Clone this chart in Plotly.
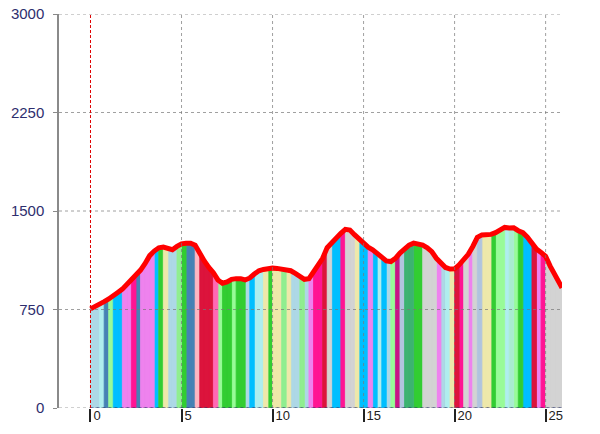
import plotly.graph_objects as go

# Distance along the route (km)
distance_km = [
    0, 0.25, 0.5, 0.75, 1.0, 1.25, 1.5, 1.75, 2.0, 2.25, 2.5, 2.75, 3.0, 3.25, 3.5, 3.75,
    4.0, 4.25, 4.5, 4.75, 5.0, 5.25, 5.5, 5.75, 6.0, 6.25, 6.5, 6.75, 7.0, 7.25, 7.5, 7.75,
    8.0, 8.25, 8.5, 8.75, 9.0, 9.25, 9.5, 9.75, 10.0, 10.25, 10.5, 10.75, 11.0, 11.25, 11.5, 11.75,
    12.0, 12.25, 12.5, 12.75, 13.0, 13.25, 13.5, 13.75, 14.0, 14.25, 14.5, 14.75, 15.0, 15.25, 15.5, 15.75,
    16.0, 16.25, 16.5, 16.75, 17.0, 17.25, 17.5, 17.75, 18.0, 18.25, 18.5, 18.75, 19.0, 19.25, 19.5, 19.75,
    20.0, 20.25, 20.5, 20.75, 21.0, 21.25, 21.5, 21.75, 22.0, 22.25, 22.5, 22.75, 23.0, 23.25, 23.5, 23.75,
    24.0, 24.25, 24.5, 24.75, 25.0, 25.25, 25.5, 25.75, 25.9,
]

# Elevation (m)
elevation_m = [
    755, 770, 790, 810, 830, 850, 880, 905, 940, 975, 1010, 1050, 1100, 1160, 1195, 1220,
    1225, 1215, 1205, 1230, 1250, 1255, 1255, 1240, 1170, 1120, 1070, 1030, 975, 950, 960, 980,
    985, 985, 975, 990, 1020, 1045, 1055, 1062, 1065, 1063, 1060, 1055, 1045, 1025, 1000, 980,
    985, 1040, 1095, 1140, 1220, 1260, 1290, 1330, 1360, 1355, 1320, 1290, 1250, 1225, 1205, 1175,
    1145, 1120, 1115, 1140, 1180, 1210, 1240, 1255, 1250, 1240, 1220, 1190, 1140, 1100, 1070, 1058,
    1060, 1090, 1130, 1170, 1230, 1300, 1318, 1318, 1322, 1335, 1360, 1375, 1370, 1372, 1350, 1335,
    1300, 1250, 1210, 1185, 1155, 1080, 1020, 965, 915,
]

# Colour category of each segment between consecutive points
segment_colors = [
    "lightblue", "lightblue", "paleturquoise", "steelblue", "palegreen", "deepskyblue", "deepskyblue", "violet", "violet", "deeppink",
    "steelblue", "violet", "violet", "violet", "deepskyblue", "limegreen", "palegoldenrod", "lightblue", "lightblue", "lightgreen",
    "limegreen", "steelblue", "steelblue", "lightpink", "crimson", "crimson", "crimson", "hotpink", "palegreen", "limegreen",
    "limegreen", "palegreen", "limegreen", "limegreen", "lightblue", "deepskyblue", "paleturquoise", "paleturquoise", "palegoldenrod", "limegreen",
    "palegoldenrod", "palegoldenrod", "lightgreen", "palegoldenrod", "lightblue", "lightblue", "lightgreen", "lightblue", "violet", "deeppink",
    "deeppink", "crimson", "lightgray", "deepskyblue", "deepskyblue", "deeppink", "lightgray", "lightgray", "palegoldenrod", "deepskyblue",
    "deepskyblue", "violet", "deepskyblue", "paleturquoise", "deepskyblue", "lightblue", "palegreen", "mediumvioletred", "lightsteelblue", "mediumseagreen",
    "mediumseagreen", "limegreen", "limegreen", "lightgray", "lightgray", "lightgray", "violet", "lightblue", "paleturquoise", "palegoldenrod",
    "crimson", "deeppink", "lightgray", "violet", "lightgray", "lightsteelblue", "palegoldenrod", "palegoldenrod", "limegreen", "palegreen",
    "palegreen", "paleturquoise", "#a8ecd0", "palegreen", "limegreen", "deepskyblue", "deepskyblue", "crimson", "violet", "deeppink",
    "lightgray", "lightgray", "lightgray", "lightgray",
]

x_ticks = [0, 5, 10, 15, 20, 25]
y_ticks = [0, 750, 1500, 2250, 3000]

fig = go.Figure()

groups = {}
for i, c in enumerate(segment_colors):
    xs, ys = groups.setdefault(c, ([], []))
    xs += [distance_km[i], distance_km[i], distance_km[i + 1], distance_km[i + 1], None]
    ys += [0, elevation_m[i], elevation_m[i + 1], 0, None]

for c, (xs, ys) in groups.items():
    fig.add_trace(go.Scatter(x=xs, y=ys, mode="lines", fill="toself", fillcolor=c,
                             line=dict(color=c, width=0.8), hoverinfo="skip", showlegend=False))

fig.add_trace(go.Scatter(x=distance_km, y=elevation_m, mode="lines",
                         line=dict(color="#ff0000", width=5), showlegend=False))

shapes = []
grid_col = "rgba(120,120,120,0.7)"
for v in x_ticks[1:]:
    shapes.append(dict(type="line", xref="x", yref="y", x0=v, x1=v, y0=0, y1=y_ticks[-1],
                       line=dict(color=grid_col, width=1, dash="dot"), layer="above"))
for v in y_ticks:
    shapes.append(dict(type="line", xref="paper", yref="y", x0=0, x1=1, y0=v, y1=v,
                       line=dict(color=grid_col, width=1, dash="dot"), layer="above"))
shapes.append(dict(type="line", xref="x", yref="y", x0=distance_km[0], x1=distance_km[-1], y0=0, y1=0,
                   line=dict(color="#1f2a6b", width=1, dash="dot"), layer="above"))
shapes.append(dict(type="line", xref="x", yref="y", x0=0, x1=0, y0=0, y1=y_ticks[-1],
                   line=dict(color="#e00000", width=1, dash="3px,2px"), layer="above"))

fig.update_layout(
    width=600, height=434,
    margin=dict(l=59, r=38, t=14, b=26, autoexpand=False),
    paper_bgcolor="white", plot_bgcolor="white",
    shapes=shapes,
    showlegend=False,
    xaxis=dict(range=[-1.73, 25.9], tickvals=x_ticks, ticktext=[str(v) for v in x_ticks],
               automargin=False,
               showgrid=False, zeroline=False, showline=False,
               ticks="outside", ticklen=13, tickwidth=2, tickcolor="#222222",
               ticklabelposition="outside right", ticklabelshift=2, ticklabelstandoff=-5,
               ticklabeloverflow="allow",
               tickfont=dict(family="Arial, Liberation Sans", size=13, color="#222222")),
    yaxis=dict(range=[0, 3000], tickvals=y_ticks, ticktext=[str(v) for v in y_ticks],
               automargin=False,
               showgrid=False, zeroline=False, showline=True, linecolor="#8a8a8a", linewidth=1.5,
               ticks="outside", ticklen=4, tickcolor="#8a8a8a", ticklabelstandoff=6,
               ticklabeloverflow="allow",
               tickfont=dict(family="Arial, Liberation Sans", size=15, color="#2e2e6e")),
)

fig.write_html("out.html", config={"displayModeBar": False},
               post_script="document.body.style.margin='0';document.body.style.overflow='hidden';")
